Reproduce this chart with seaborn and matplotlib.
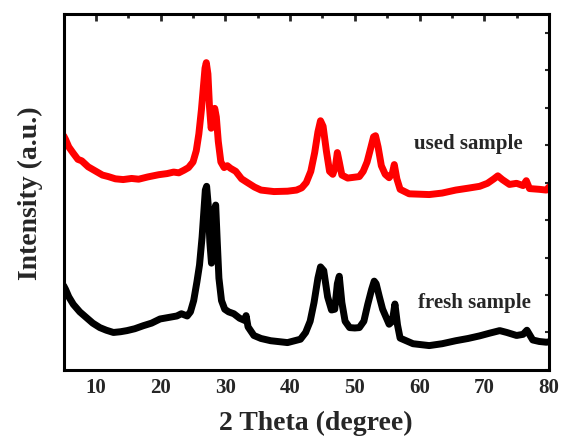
import matplotlib
matplotlib.use('Agg')
import matplotlib.pyplot as plt
import seaborn as sns
import pandas as pd
from matplotlib.ticker import MultipleLocator

# 2-theta positions (degree) and intensities (arbitrary units)
used_theta = [5.0, 5.3, 5.8, 6.5, 7.2, 7.8, 8.8, 10.0, 11.0, 11.9, 13.0, 14.2, 15.5,
              16.6, 18.0, 19.7, 21.0, 22.0, 22.8, 23.6, 24.3, 25.0, 25.5, 25.9, 26.3,
              26.6, 26.85, 27.05, 27.3, 27.55, 27.8, 28.1, 28.35, 28.6, 28.9, 29.3,
              29.8, 30.3, 30.8, 31.6, 32.5, 33.4, 34.5, 35.5, 37.5, 39.6, 41.0, 41.8,
              42.5, 43.2, 43.8, 44.3, 44.7, 45.1, 45.6, 46.1, 46.6, 47.0, 47.3, 47.6,
              48.0, 48.9, 49.8, 50.7, 51.3, 51.9, 52.5, 52.9, 53.2, 53.6, 54.1, 54.7,
              55.3, 55.8, 56.1, 56.5, 57.0, 58.4, 61.5, 63.5, 65.6, 67.5, 69.3, 70.5,
              71.5, 72.1, 72.8, 73.9, 75.0, 76.0, 76.5, 77.0, 78.5, 79.6, 80.0]
used_int = [6.25, 6.15, 5.95, 5.78, 5.62, 5.58, 5.42, 5.30, 5.20, 5.16, 5.10, 5.08, 5.11,
            5.09, 5.15, 5.21, 5.24, 5.28, 5.26, 5.33, 5.40, 5.55, 5.85, 6.30, 6.95,
            7.55, 8.05, 8.20, 7.90, 7.00, 6.45, 6.70, 6.98, 6.75, 6.10, 5.55,
            5.40, 5.45, 5.38, 5.30, 5.10, 5.00, 4.88, 4.80, 4.76, 4.77, 4.80, 4.86,
            5.00, 5.30, 5.80, 6.35, 6.65, 6.50, 5.85, 5.30, 5.22, 5.42, 5.80, 5.55,
            5.20, 5.12, 5.14, 5.16, 5.30, 5.55, 5.95, 6.22, 6.25, 5.95, 5.45, 5.22,
            5.13, 5.25, 5.48, 5.10, 4.82, 4.70, 4.68, 4.72, 4.80, 4.85, 4.90, 4.98,
            5.10, 5.18, 5.08, 4.95, 4.98, 4.92, 5.05, 4.84, 4.82, 4.80, 4.88]

fresh_theta = [5.0, 5.3, 5.8, 6.5, 7.5, 8.5, 9.5, 10.6, 11.6, 12.7, 13.8, 14.8, 16.0,
               17.3, 18.6, 19.9, 21.2, 22.5, 23.2, 24.1, 24.6, 25.1, 25.6, 26.0, 26.4,
               26.7, 26.9, 27.1, 27.35, 27.6, 27.85, 28.1, 28.3, 28.5, 28.75, 29.0,
               29.4, 29.9, 30.5, 31.3, 32.2, 33.0, 33.2, 33.5, 34.4, 35.5, 37.0, 39.6,
               41.6, 42.4, 43.1, 43.7, 44.3, 44.7, 45.2, 45.8, 46.4, 46.9, 47.3, 47.6,
               48.0, 48.5, 49.2, 50.0, 50.7, 51.4, 52.0, 52.6, 53.0, 53.3, 53.8, 54.3,
               55.3, 55.8, 56.2, 56.6, 57.0, 59.0, 61.5, 63.5, 65.6, 67.5, 69.3, 70.8,
               72.4, 73.5, 75.0, 76.0, 76.6, 77.5, 78.5, 79.6, 80.0]
fresh_int = [2.25, 2.15, 1.95, 1.75, 1.55, 1.40, 1.25, 1.13, 1.06, 1.00, 1.02, 1.05, 1.10,
             1.18, 1.25, 1.36, 1.40, 1.44, 1.50, 1.44, 1.55, 1.85, 2.35, 2.80, 3.55,
             4.30, 4.80, 4.90, 4.40, 3.40, 2.85, 3.40, 4.25, 4.40, 3.40, 2.45,
             1.85, 1.62, 1.55, 1.50, 1.38, 1.32, 1.45, 1.15, 0.92, 0.84, 0.78, 0.73,
             0.82, 1.00, 1.30, 1.80, 2.45, 2.75, 2.65, 1.95, 1.60, 1.62, 2.30, 2.50,
             1.80, 1.30, 1.13, 1.12, 1.13, 1.30, 1.75, 2.15, 2.37, 2.30, 1.95, 1.62,
             1.22, 1.30, 1.76, 1.20, 0.85, 0.70, 0.65, 0.70, 0.78, 0.84, 0.91, 0.98,
             1.05, 1.00, 0.92, 0.95, 1.06, 0.80, 0.76, 0.74, 0.75]

labels = ['used sample', 'fresh sample']
label_x = [59.2, 59.7]
label_y = [6.06, 1.81]

sns.set_style('white')
plt.rcParams['font.family'] = ['Liberation Serif', 'DejaVu Serif']
plt.rcParams['font.weight'] = 'bold'

df = pd.concat([
    pd.DataFrame({'theta': used_theta, 'intensity': used_int, 'sample': 'used'}),
    pd.DataFrame({'theta': fresh_theta, 'intensity': fresh_int, 'sample': 'fresh'}),
])

fig, ax = plt.subplots(figsize=(5.63, 4.39), dpi=100)
sns.lineplot(data=df, x='theta', y='intensity', hue='sample',
             palette={'used': '#ff0000', 'fresh': '#000000'},
             linewidth=5, legend=False, ax=ax, sort=False)

for txt, tx, ty in zip(labels, label_x, label_y):
    ax.text(tx, ty, txt, fontsize=15, fontweight='bold', va='center', ha='left')

ax.set_xlim(5, 80)
ax.set_ylim(0, 9.5)
ax.xaxis.set_major_locator(MultipleLocator(10))
ax.xaxis.set_minor_locator(MultipleLocator(5))
ax.yaxis.set_major_locator(MultipleLocator(1))
ax.set_yticklabels([])
ax.tick_params(axis='x', which='major', direction='in', length=5, width=2,
               labelsize=15, top=True, pad=5)
ax.tick_params(axis='x', which='minor', direction='in', length=3, width=2, top=True)
ax.tick_params(axis='y', direction='in', length=3, width=1.5, right=True)
for lbl in ax.get_xticklabels():
    lbl.set_fontweight('bold')

for sp in ax.spines.values():
    sp.set_linewidth(2.2)
    sp.set_color('black')

ax.set_xlabel('2 Theta (degree)', fontsize=20, fontweight='bold')
ax.xaxis.set_label_coords(0.52, -0.112)
ax.set_ylabel('Intensity (a.u.)', fontsize=20, fontweight='bold', labelpad=11)

fig.subplots_adjust(left=0.113, right=0.975, top=0.966, bottom=0.155)
fig.savefig('out.png', dpi=100)
